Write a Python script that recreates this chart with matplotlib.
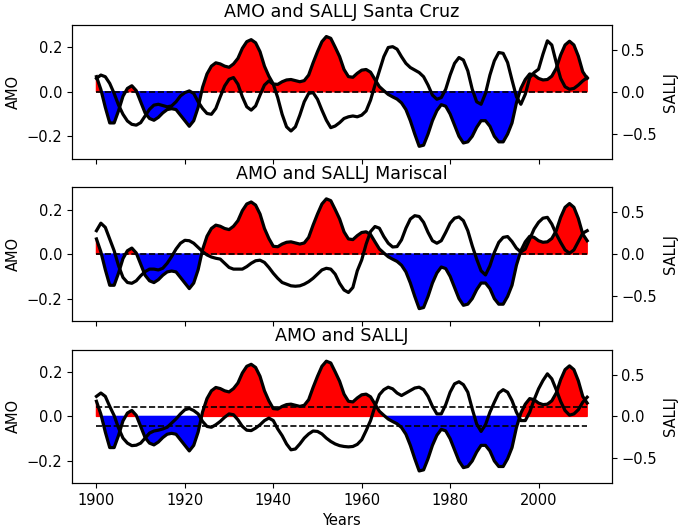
import numpy as np
import matplotlib
matplotlib.use("Agg")
import matplotlib.pyplot as plt

plt.rcParams["font.size"] = 10.5

# Dados anuais 1900-2011
years = np.arange(1900, 2012)

amo = [0.068, 0.01, -0.07, -0.14, -0.14, -0.085, -0.02, 0.015, 0.027, 0.005,
       -0.045, -0.095, -0.12, -0.128, -0.115, -0.095, -0.08, -0.076, -0.08, -0.105,
       -0.13, -0.155, -0.13, -0.07, 0.02, 0.08, 0.115, 0.13, 0.125, 0.115,
       0.11, 0.125, 0.15, 0.195, 0.225, 0.234, 0.22, 0.18, 0.115, 0.07,
       0.035, 0.033, 0.045, 0.053, 0.055, 0.05, 0.045, 0.05, 0.075, 0.13,
       0.18, 0.225, 0.248, 0.24, 0.2, 0.158, 0.1, 0.068, 0.065, 0.083,
       0.097, 0.1, 0.088, 0.055, 0.023, 0.005, -0.012, -0.023, -0.033, -0.05,
       -0.08, -0.13, -0.19, -0.245, -0.24, -0.19, -0.13, -0.085, -0.058, -0.065,
       -0.1, -0.15, -0.2, -0.23, -0.225, -0.2, -0.16, -0.13, -0.13, -0.155,
       -0.2, -0.225, -0.225, -0.19, -0.14, -0.05, 0.015, 0.055, 0.08, 0.075,
       0.06, 0.053, 0.055, 0.07, 0.105, 0.165, 0.21, 0.227, 0.21, 0.16,
       0.09, 0.06]

sallj_santa_cruz = [0.16, 0.20, 0.18, 0.10, -0.02, -0.16, -0.27, -0.35, -0.39, -0.40,
                    -0.37, -0.29, -0.21, -0.16, -0.15, -0.165, -0.18, -0.17, -0.12, -0.05,
                    -0.01, 0.01, -0.02, -0.12, -0.20, -0.26, -0.27, -0.20, -0.06, 0.07,
                    0.15, 0.17, 0.09, -0.06, -0.18, -0.22, -0.17, -0.04, 0.08, 0.13,
                    0.09, -0.07, -0.27, -0.42, -0.47, -0.42, -0.28, -0.12, -0.02, -0.01,
                    -0.09, -0.22, -0.34, -0.43, -0.41, -0.37, -0.32, -0.30, -0.29, -0.30,
                    -0.28, -0.23, -0.10, 0.08, 0.25, 0.42, 0.53, 0.54, 0.51, 0.42,
                    0.34, 0.29, 0.26, 0.23, 0.18, 0.08, -0.04, -0.09, -0.07, 0.03,
                    0.20, 0.34, 0.41, 0.38, 0.25, 0.03, -0.12, -0.15, -0.02, 0.20,
                    0.37, 0.47, 0.46, 0.35, 0.14, -0.06, -0.15, -0.03, 0.17, 0.23,
                    0.27, 0.45, 0.61, 0.56, 0.35, 0.16, 0.06, 0.03, 0.04, 0.08,
                    0.13, 0.17]

sallj_mariscal = [0.28, 0.37, 0.32, 0.18, 0.04, -0.14, -0.28, -0.34, -0.35, -0.32,
                  -0.26, -0.21, -0.18, -0.18, -0.19, -0.17, -0.11, -0.03, 0.06, 0.13,
                  0.165, 0.16, 0.13, 0.08, 0.03, -0.01, -0.035, -0.05, -0.06, -0.11,
                  -0.16, -0.18, -0.18, -0.18, -0.15, -0.11, -0.08, -0.073, -0.10, -0.16,
                  -0.23, -0.29, -0.34, -0.36, -0.38, -0.385, -0.38, -0.36, -0.33, -0.29,
                  -0.24, -0.19, -0.17, -0.18, -0.24, -0.35, -0.43, -0.46, -0.40, -0.20,
                  -0.07, 0.12, 0.27, 0.33, 0.31, 0.21, 0.13, 0.085, 0.09, 0.17,
                  0.31, 0.42, 0.46, 0.45, 0.38, 0.26, 0.16, 0.13, 0.16, 0.26,
                  0.37, 0.43, 0.445, 0.40, 0.28, 0.10, -0.06, -0.20, -0.25, -0.14,
                  0.02, 0.14, 0.20, 0.21, 0.15, 0.07, 0.025, 0.06, 0.18, 0.30,
                  0.38, 0.43, 0.44, 0.36, 0.24, 0.14, 0.05, 0.01, 0.05, 0.15,
                  0.25, 0.28]

sallj_total = [0.24, 0.28, 0.24, 0.12, 0.01, -0.14, -0.26, -0.32, -0.35, -0.345,
               -0.32, -0.26, -0.20, -0.175, -0.165, -0.15, -0.13, -0.08, -0.03, 0.03,
               0.08, 0.095, 0.07, 0.03, -0.06, -0.12, -0.13, -0.10, -0.06, -0.01,
               0.03, 0.02, -0.04, -0.12, -0.165, -0.17, -0.14, -0.10, -0.05, -0.02,
               -0.05, -0.15, -0.23, -0.33, -0.40, -0.39, -0.33, -0.26, -0.21, -0.175,
               -0.18, -0.21, -0.26, -0.30, -0.33, -0.35, -0.36, -0.365, -0.36, -0.335,
               -0.28, -0.17, -0.05, 0.12, 0.26, 0.32, 0.35, 0.33, 0.28, 0.25,
               0.28, 0.31, 0.34, 0.35, 0.32, 0.24, 0.12, 0.03, 0.03, 0.14,
               0.29, 0.39, 0.415, 0.38, 0.29, 0.09, -0.09, -0.18, -0.10, 0.05,
               0.17, 0.28, 0.32, 0.29, 0.19, 0.05, -0.05, -0.05, 0.05, 0.20,
               0.33, 0.43, 0.51, 0.45, 0.32, 0.18, 0.07, 0.015, 0.03, 0.08,
               0.17, 0.23]

titles = ["AMO and SALLJ Santa Cruz", "AMO and SALLJ Mariscal", "AMO and SALLJ"]
sallj_series = [sallj_santa_cruz, sallj_mariscal, sallj_total]
limiar = 0.043  # linhas tracejadas do ultimo painel

amo = np.array(amo)

fig, axes = plt.subplots(3, 1, sharex=True, figsize=(6.85, 5.31), dpi=100)
fig.subplots_adjust(left=0.105, right=0.893, top=0.953, bottom=0.09, hspace=0.215)

for i, ax in enumerate(axes):
    ax.fill_between(years, amo, 0, where=amo >= 0, color="red", interpolate=True)
    ax.fill_between(years, amo, 0, where=amo < 0, color="blue", interpolate=True)
    ax.plot(years, amo, color="black", lw=2.3)
    if i < 2:
        ax.plot(years, np.zeros(len(years)), "k--", lw=1.2)
    else:
        ax.plot(years, np.full(len(years), limiar), "k--", lw=1.2)
        ax.plot(years, np.full(len(years), -limiar), "k--", lw=1.2)
    ax.set_ylim(-0.3, 0.3)
    ax.set_yticks([-0.2, 0.0, 0.2])
    ax.set_ylabel("AMO")
    ax.set_title(titles[i])

    ax2 = ax.twinx()
    ax2.plot(years, sallj_series[i], color="black", lw=2.3)
    ax2.set_ylim(-0.8, 0.8)
    ax2.set_yticks([-0.5, 0.0, 0.5])
    ax2.set_ylabel("SALLJ")

axes[-1].set_xlabel("Years")

plt.savefig("out.png")
